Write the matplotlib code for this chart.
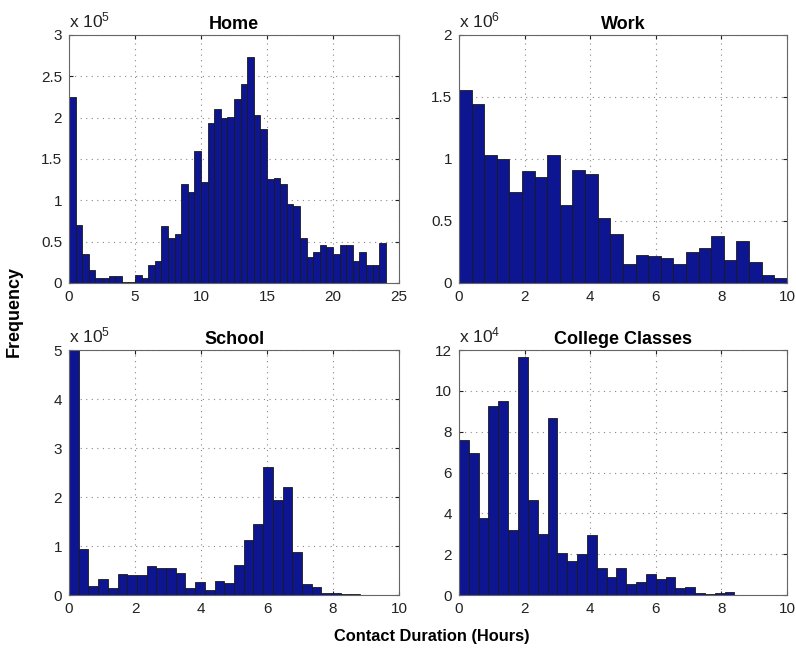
import matplotlib
matplotlib.use("Agg")
import matplotlib.pyplot as plt
import numpy as np

plt.rcParams["font.family"] = ["Liberation Sans", "DejaVu Sans"]
plt.rcParams["mathtext.fontset"] = "custom"
plt.rcParams["mathtext.rm"] = "Liberation Sans"
plt.rcParams["mathtext.it"] = "Liberation Sans"

# bin width, heights (in units of the axis exponent)
home_width = 0.5
home_counts = [2.255, 0.70, 0.346, 0.16, 0.056, 0.064, 0.09, 0.09, 0.016, 0.016,
               0.097, 0.064, 0.22, 0.26, 0.69, 0.54, 0.59, 1.20, 1.10, 1.60,
               1.22, 1.94, 2.11, 2.00, 2.01, 2.23, 2.41, 2.73, 2.03, 1.86,
               1.26, 1.27, 1.20, 0.95, 0.93, 0.54, 0.31, 0.37, 0.455, 0.43,
               0.35, 0.455, 0.455, 0.26, 0.37, 0.22, 0.22, 0.48]

work_width = 10 / 26
work_counts = [1.557, 1.444, 1.036, 0.996, 0.733, 0.907, 0.856, 1.036, 0.631, 0.910,
               0.878, 0.526, 0.397, 0.156, 0.225, 0.217, 0.204, 0.156, 0.247, 0.279,
               0.381, 0.183, 0.338, 0.169, 0.064, 0.043]

school_width = 10 / 34
school_counts = [5.0, 0.93, 0.19, 0.33, 0.15, 0.42, 0.40, 0.40, 0.585, 0.544,
                 0.544, 0.44, 0.15, 0.265, 0.10, 0.28, 0.25, 0.62, 1.12, 1.45,
                 2.61, 1.93, 2.20, 0.88, 0.23, 0.16, 0.04, 0.04, 0.03, 0.015,
                 0.01, 0.005, 0.003]

college_width = 0.3
college_counts = [7.59, 6.94, 3.76, 9.27, 9.51, 3.18, 11.67, 4.65, 2.97, 8.65,
                  2.07, 1.67, 2.01, 2.94, 1.31, 0.88, 1.31, 0.52, 0.64, 1.01,
                  0.78, 0.87, 0.36, 0.41, 0.10, 0.07, 0.10, 0.15, 0.01, 0.01,
                  0.01]

panels = [
    ("Home", home_width, home_counts, 5, (0, 25), np.arange(0, 26, 5), np.arange(0, 3.01, 0.5), 3),
    ("Work", work_width, work_counts, 6, (0, 10), np.arange(0, 11, 2), np.arange(0, 2.01, 0.5), 2),
    ("School", school_width, school_counts, 5, (0, 10), np.arange(0, 11, 2), np.arange(0, 5.1, 1), 5),
    ("College Classes", college_width, college_counts, 4, (0, 10), np.arange(0, 11, 2), np.arange(0, 12.1, 2), 12),
]

# axes rectangles in figure fraction
rects = [
    [0.0867, 0.5673, 0.4146, 0.3792],
    [0.5766, 0.5673, 0.4120, 0.3792],
    [0.0867, 0.0902, 0.4146, 0.3746],
    [0.5766, 0.0902, 0.4120, 0.3746],
]

BAR = "#0e1590"

fig = plt.figure(figsize=(7.96, 6.54), dpi=100)

for (title, width, counts, expo, xlim, xticks, yticks, ymax), rect in zip(panels, rects):
    ax = fig.add_axes(rect)
    edges = np.arange(len(counts)) * width
    ax.bar(edges, counts, width=width, align="edge", color=BAR,
           edgecolor="#1a1a1a", linewidth=0.6, zorder=2)
    ax.set_xlim(*xlim)
    ax.set_ylim(0, ymax)
    ax.set_xticks(xticks)
    ax.set_yticks(yticks)
    ax.set_yticklabels([f"{v:g}" for v in yticks])
    ax.grid(True, linestyle=(0, (1, 4)), color="#888888", linewidth=0.8, zorder=0)
    ax.tick_params(direction="in", length=3, top=True, right=True,
                   labelsize=11, colors="#222222", pad=5)
    for s in ax.spines.values():
        s.set_color("#666666")
        s.set_linewidth(0.8)
    ax.set_title(title, fontsize=13, fontweight="bold", pad=4.5)
    ax.text(0.0, 1.02, f"x 10$^{{{expo}}}$", transform=ax.transAxes,
            fontsize=12.5, ha="left", va="bottom", color="#222222")

fig.text(0.018, 0.523, "Frequency", rotation=90, fontsize=13, fontweight="bold",
         ha="center", va="center")
fig.text(0.542, 0.026, "Contact Duration (Hours)", fontsize=11.8, fontweight="bold",
         ha="center", va="center")

fig.savefig("out.png", dpi=100)
